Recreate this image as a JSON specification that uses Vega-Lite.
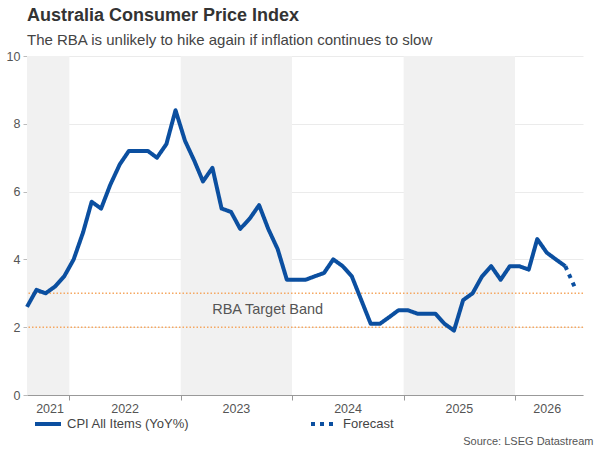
{
  "$schema": "https://vega.github.io/schema/vega-lite/v6.json",
  "width": 556,
  "height": 339,
  "autosize": {"type": "none"},
  "padding": {"left": 27, "top": 56, "right": 17, "bottom": 54},
  "config": {
    "font": "Liberation Sans",
    "view": {"stroke": null}
  },
  "title": {
    "text": "Australia Consumer Price Index",
    "subtitle": "The RBA is unlikely to hike again if inflation continues to slow",
    "anchor": "start",
    "frame": "group",
    "fontSize": 18,
    "fontWeight": "bold",
    "color": "#333333",
    "subtitleFontSize": 15,
    "subtitleColor": "#444444",
    "subtitlePadding": 8,
    "offset": 2
  },
  "datasets": {
    "cpi": [
      {"date": "2021-08-15", "value": 2.6, "series": "CPI All Items (YoY%)"},
      {"date": "2021-09-15", "value": 3.1, "series": "CPI All Items (YoY%)"},
      {"date": "2021-10-15", "value": 3.0, "series": "CPI All Items (YoY%)"},
      {"date": "2021-11-15", "value": 3.2, "series": "CPI All Items (YoY%)"},
      {"date": "2021-12-15", "value": 3.5, "series": "CPI All Items (YoY%)"},
      {"date": "2022-01-15", "value": 4.0, "series": "CPI All Items (YoY%)"},
      {"date": "2022-02-15", "value": 4.8, "series": "CPI All Items (YoY%)"},
      {"date": "2022-03-15", "value": 5.7, "series": "CPI All Items (YoY%)"},
      {"date": "2022-04-15", "value": 5.5, "series": "CPI All Items (YoY%)"},
      {"date": "2022-05-15", "value": 6.2, "series": "CPI All Items (YoY%)"},
      {"date": "2022-06-15", "value": 6.8, "series": "CPI All Items (YoY%)"},
      {"date": "2022-07-15", "value": 7.2, "series": "CPI All Items (YoY%)"},
      {"date": "2022-08-15", "value": 7.2, "series": "CPI All Items (YoY%)"},
      {"date": "2022-09-15", "value": 7.2, "series": "CPI All Items (YoY%)"},
      {"date": "2022-10-15", "value": 7.0, "series": "CPI All Items (YoY%)"},
      {"date": "2022-11-15", "value": 7.4, "series": "CPI All Items (YoY%)"},
      {"date": "2022-12-15", "value": 8.4, "series": "CPI All Items (YoY%)"},
      {"date": "2023-01-15", "value": 7.5, "series": "CPI All Items (YoY%)"},
      {"date": "2023-02-15", "value": 6.9, "series": "CPI All Items (YoY%)"},
      {"date": "2023-03-15", "value": 6.3, "series": "CPI All Items (YoY%)"},
      {"date": "2023-04-15", "value": 6.7, "series": "CPI All Items (YoY%)"},
      {"date": "2023-05-15", "value": 5.5, "series": "CPI All Items (YoY%)"},
      {"date": "2023-06-15", "value": 5.4, "series": "CPI All Items (YoY%)"},
      {"date": "2023-07-15", "value": 4.9, "series": "CPI All Items (YoY%)"},
      {"date": "2023-08-15", "value": 5.2, "series": "CPI All Items (YoY%)"},
      {"date": "2023-09-15", "value": 5.6, "series": "CPI All Items (YoY%)"},
      {"date": "2023-10-15", "value": 4.9, "series": "CPI All Items (YoY%)"},
      {"date": "2023-11-15", "value": 4.3, "series": "CPI All Items (YoY%)"},
      {"date": "2023-12-15", "value": 3.4, "series": "CPI All Items (YoY%)"},
      {"date": "2024-01-15", "value": 3.4, "series": "CPI All Items (YoY%)"},
      {"date": "2024-02-15", "value": 3.4, "series": "CPI All Items (YoY%)"},
      {"date": "2024-03-15", "value": 3.5, "series": "CPI All Items (YoY%)"},
      {"date": "2024-04-15", "value": 3.6, "series": "CPI All Items (YoY%)"},
      {"date": "2024-05-15", "value": 4.0, "series": "CPI All Items (YoY%)"},
      {"date": "2024-06-15", "value": 3.8, "series": "CPI All Items (YoY%)"},
      {"date": "2024-07-15", "value": 3.5, "series": "CPI All Items (YoY%)"},
      {"date": "2024-08-15", "value": 2.8, "series": "CPI All Items (YoY%)"},
      {"date": "2024-09-15", "value": 2.1, "series": "CPI All Items (YoY%)"},
      {"date": "2024-10-15", "value": 2.1, "series": "CPI All Items (YoY%)"},
      {"date": "2024-11-15", "value": 2.3, "series": "CPI All Items (YoY%)"},
      {"date": "2024-12-15", "value": 2.5, "series": "CPI All Items (YoY%)"},
      {"date": "2025-01-15", "value": 2.5, "series": "CPI All Items (YoY%)"},
      {"date": "2025-02-15", "value": 2.4, "series": "CPI All Items (YoY%)"},
      {"date": "2025-03-15", "value": 2.4, "series": "CPI All Items (YoY%)"},
      {"date": "2025-04-15", "value": 2.4, "series": "CPI All Items (YoY%)"},
      {"date": "2025-05-15", "value": 2.1, "series": "CPI All Items (YoY%)"},
      {"date": "2025-06-15", "value": 1.9, "series": "CPI All Items (YoY%)"},
      {"date": "2025-07-15", "value": 2.8, "series": "CPI All Items (YoY%)"},
      {"date": "2025-08-15", "value": 3.0, "series": "CPI All Items (YoY%)"},
      {"date": "2025-09-15", "value": 3.5, "series": "CPI All Items (YoY%)"},
      {"date": "2025-10-15", "value": 3.8, "series": "CPI All Items (YoY%)"},
      {"date": "2025-11-15", "value": 3.4, "series": "CPI All Items (YoY%)"},
      {"date": "2025-12-15", "value": 3.8, "series": "CPI All Items (YoY%)"},
      {"date": "2026-01-15", "value": 3.8, "series": "CPI All Items (YoY%)"},
      {"date": "2026-02-15", "value": 3.7, "series": "CPI All Items (YoY%)"},
      {"date": "2026-03-15", "value": 4.6, "series": "CPI All Items (YoY%)"},
      {"date": "2026-04-15", "value": 4.2, "series": "CPI All Items (YoY%)"},
      {"date": "2026-05-15", "value": 4.0, "series": "CPI All Items (YoY%)"},
      {"date": "2026-06-15", "value": 3.8, "series": "CPI All Items (YoY%)"},
      {"date": "2026-06-15", "value": 3.8, "series": "Forecast"},
      {"date": "2026-07-15", "value": 3.2, "series": "Forecast"}
    ],
    "bands": [
      {"start": "2021-07-01", "end": "2022-01-01"},
      {"start": "2023-01-01", "end": "2024-01-01"},
      {"start": "2025-01-01", "end": "2026-01-01"}
    ],
    "target": [
      {"level": 2},
      {"level": 3}
    ],
    "notes": [
      {"date": "2023-10-13", "value": 2.5, "label": "RBA Target Band"}
    ]
  },
  "layer": [
    {
      "data": {"name": "bands"},
      "mark": {"type": "rect", "clip": true, "color": "#f1f1f1"},
      "encoding": {
        "x": {
          "field": "start",
          "type": "temporal",
          "scale": {
            "domain": [
              {"year": 2021, "month": 8, "date": 15},
              {"year": 2026, "month": 8, "date": 12}
            ]
          },
          "axis": {
            "orient": "bottom",
            "values": [
              {"year": 2022, "month": 1, "date": 1},
              {"year": 2023, "month": 1, "date": 1},
              {"year": 2024, "month": 1, "date": 1},
              {"year": 2025, "month": 1, "date": 1},
              {"year": 2026, "month": 1, "date": 1}
            ],
            "labels": false,
            "grid": false,
            "title": null,
            "tickSize": 5,
            "tickColor": "#999999",
            "domainColor": "#999999"
          }
        },
        "x2": {"field": "end"}
      }
    },
    {
      "data": {"name": "target"},
      "mark": {"type": "rule", "color": "#f5a862", "strokeWidth": 1.5, "strokeDash": [1.5, 2]},
      "encoding": {
        "y": {
          "field": "level",
          "type": "quantitative",
          "scale": {"domain": [0, 10]},
          "axis": {
            "values": [0, 2, 4, 6, 8, 10],
            "title": null,
            "grid": true,
            "gridColor": "#ebebeb",
            "domainColor": "#bbbbbb",
            "tickColor": "#bbbbbb",
            "tickSize": 4,
            "labelPadding": 3,
            "labelFontSize": 12.5,
            "labelColor": "#555555"
          }
        }
      }
    },
    {
      "data": {"name": "notes"},
      "mark": {"type": "text", "fontSize": 14.5, "color": "#555555", "align": "center", "baseline": "middle"},
      "encoding": {
        "x": {"field": "date", "type": "temporal", "axis": null},
        "y": {"field": "value", "type": "quantitative"},
        "text": {"field": "label"}
      }
    },
    {
      "data": {"name": "cpi"},
      "mark": {"type": "line", "color": "#0b4fa0", "strokeWidth": 4, "strokeJoin": "round"},
      "encoding": {
        "x": {
          "field": "date",
          "type": "temporal",
          "axis": {
            "orient": "bottom",
            "values": [
              {"year": 2021, "month": 10, "date": 28},
              {"year": 2022, "month": 7, "date": 1},
              {"year": 2023, "month": 7, "date": 1},
              {"year": 2024, "month": 7, "date": 1},
              {"year": 2025, "month": 7, "date": 1},
              {"year": 2026, "month": 4, "date": 15}
            ],
            "format": "%Y",
            "ticks": false,
            "domain": false,
            "grid": false,
            "labelPadding": 7,
            "labelFontSize": 12.5,
            "labelColor": "#555555",
            "title": "Source: LSEG Datastream",
            "titleFontSize": 11,
            "titleFontWeight": "normal",
            "titleColor": "#555555",
            "titleAlign": "right",
            "titleAnchor": "end",
            "titleBaseline": "alphabetic",
            "titleX": 566,
            "titleY": 49
          }
        },
        "y": {
          "field": "value",
          "type": "quantitative"
        },
        "strokeDash": {
          "field": "series",
          "type": "nominal",
          "scale": {
            "domain": ["CPI All Items (YoY%)", "Forecast"],
            "range": [[1, 0], [4, 5]]
          },
          "legend": {
            "title": null,
            "orient": "none",
            "legendX": 6,
            "legendY": 353,
            "direction": "horizontal",
            "symbolType": "stroke",
            "symbolSize": 676,
            "symbolStrokeWidth": 4,
            "symbolStrokeColor": "#0b4fa0",
            "labelFontSize": 13,
            "labelColor": "#444444",
            "labelOffset": 4,
            "columnPadding": 113
          }
        }
      }
    }
  ],
  "resolve": {"axis": {"x": "independent"}}
}
